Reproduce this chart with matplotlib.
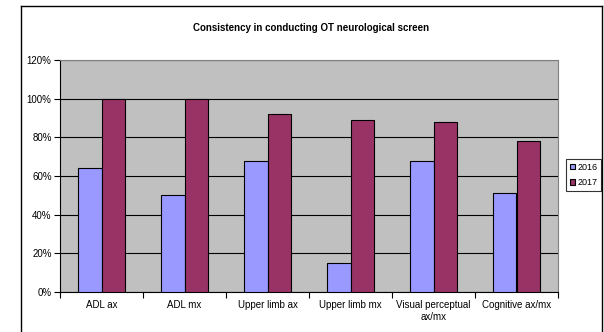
import numpy as np
import matplotlib.pyplot as plt

# ============================================================
# Data
# ============================================================
categories = ["ADL ax", "ADL mx", "Upper limb ax", "Upper limb mx",
              "Visual perceptual\nax/mx", "Cognitive ax/mx"]
vals_2016 = [64, 50, 68, 15, 68, 51]
vals_2017 = [100, 100, 92, 89, 88, 78]
series_names = ["2016", "2017"]
y_ticks = [0, 20, 40, 60, 80, 100, 120]

COLOR_2016 = "#9999FF"
COLOR_2017 = "#993366"
PLOT_BG = "#C0C0C0"

plt.rcParams["font.family"] = ["Liberation Sans", "DejaVu Sans"]

# ============================================================
# Figure
# ============================================================
fig = plt.figure(figsize=(6.04, 3.32), dpi=100)
W, H = 604, 332

# outer chart frame (open at the bottom)
fig.add_artist(plt.Line2D([21 / W, 21 / W], [0, 1 - 6 / H], color="black", lw=1.0))
fig.add_artist(plt.Line2D([21 / W, 602 / W], [1 - 6 / H, 1 - 6 / H], color="black", lw=1.0))
fig.add_artist(plt.Line2D([602 / W, 602 / W], [0, 1 - 6 / H], color="black", lw=1.0))

ax = fig.add_axes([60 / W, 40 / H, (558 - 60) / W, (292 - 60) / H])
ax.set_facecolor(PLOT_BG)

x = np.arange(len(categories))
bw = 1 / 3.5
ax.bar(x - bw / 2, vals_2016, bw, color=COLOR_2016, edgecolor="black",
       linewidth=0.8, label=series_names[0], zorder=3)
ax.bar(x + bw / 2, vals_2017, bw, color=COLOR_2017, edgecolor="black",
       linewidth=0.8, label=series_names[1], zorder=3)

ax.set_xlim(-0.5, len(categories) - 0.5)
ax.set_ylim(0, 120)
ax.set_yticks(y_ticks)
ax.set_yticklabels([f"{v}%" for v in y_ticks], fontsize=7)
ax.yaxis.grid(True, color="black", lw=0.8, zorder=0)

ax.set_xticks(x)
ax.set_xticklabels(categories, fontsize=7)
ax.tick_params(axis="x", length=0, pad=6)
ax.set_xticks(np.arange(len(categories) + 1) - 0.5, minor=True)
ax.tick_params(axis="x", which="minor", length=4, width=0.8, direction="out")
ax.tick_params(axis="y", length=4, width=0.8, direction="out", pad=2)

for side in ["top", "right"]:
    ax.spines[side].set_color("#808080")
    ax.spines[side].set_linewidth(0.8)
ax.spines["left"].set_linewidth(0.8)
ax.spines["bottom"].set_linewidth(0.8)

fig.text(311 / W, 1 - 28 / H, "Consistency in conducting OT neurological screen",
         ha="center", va="center", fontsize=7, fontweight="bold")

leg = ax.legend(loc="center left", bbox_to_anchor=(566 / W, 1 - 175 / H),
                bbox_transform=fig.transFigure, fontsize=6.5, frameon=True,
                fancybox=False, handlelength=0.6, handleheight=0.6,
                handletextpad=0.2, borderpad=0.45, labelspacing=0.75,
                borderaxespad=0)
leg.get_frame().set_edgecolor("black")
leg.get_frame().set_linewidth(0.8)

fig.savefig("out.png", dpi=100)
